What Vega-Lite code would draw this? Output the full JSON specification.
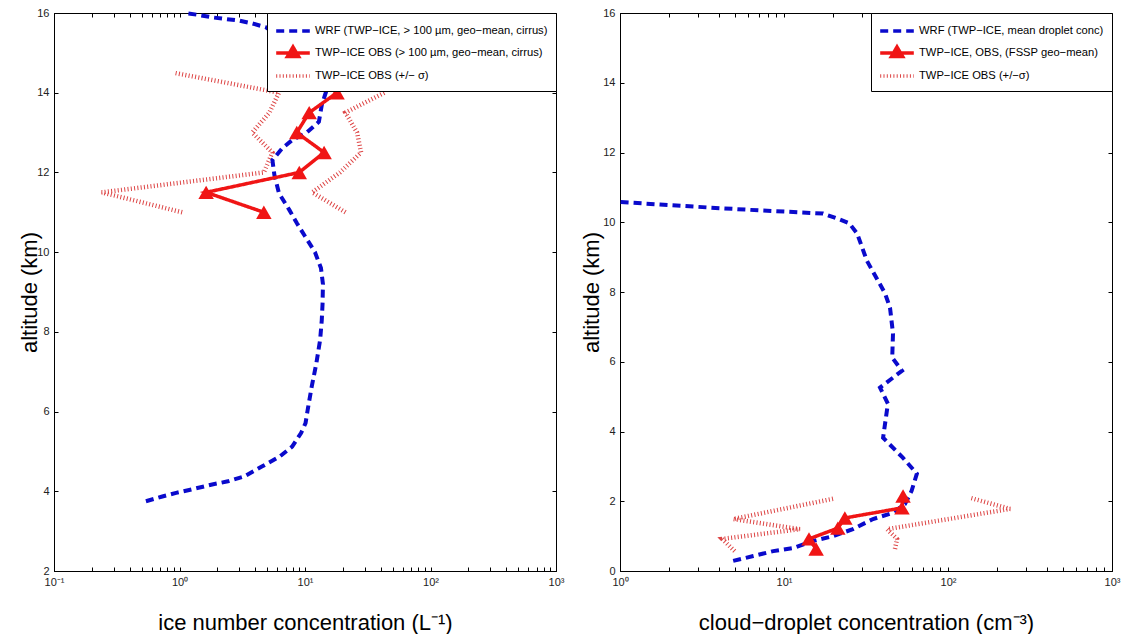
{
  "$schema": "https://vega.github.io/schema/vega-lite/v6.json",
  "background": "white",
  "padding": {"left": 17, "top": 4, "right": 0, "bottom": 0},
  "bounds": "flush",
  "spacing": 64,
  "datasets": {
    "ice": [
      {"series": "wrf", "branch": "a", "alt": 3.75, "conc": 0.54},
      {"series": "wrf", "branch": "a", "alt": 3.87, "conc": 0.73},
      {"series": "wrf", "branch": "a", "alt": 3.96, "conc": 0.94},
      {"series": "wrf", "branch": "a", "alt": 4.04, "conc": 1.22},
      {"series": "wrf", "branch": "a", "alt": 4.17, "conc": 1.82},
      {"series": "wrf", "branch": "a", "alt": 4.25, "conc": 2.43},
      {"series": "wrf", "branch": "a", "alt": 4.37, "conc": 3.26},
      {"series": "wrf", "branch": "a", "alt": 4.62, "conc": 4.53},
      {"series": "wrf", "branch": "a", "alt": 4.87, "conc": 6.28},
      {"series": "wrf", "branch": "a", "alt": 5.12, "conc": 7.9},
      {"series": "wrf", "branch": "a", "alt": 5.46, "conc": 9.3},
      {"series": "wrf", "branch": "a", "alt": 5.71, "conc": 10.1},
      {"series": "wrf", "branch": "a", "alt": 6.04, "conc": 10.5},
      {"series": "wrf", "branch": "a", "alt": 6.62, "conc": 11.3},
      {"series": "wrf", "branch": "a", "alt": 7.2, "conc": 12.3},
      {"series": "wrf", "branch": "a", "alt": 7.8, "conc": 13.2},
      {"series": "wrf", "branch": "a", "alt": 8.29, "conc": 13.6},
      {"series": "wrf", "branch": "a", "alt": 8.7, "conc": 13.8},
      {"series": "wrf", "branch": "a", "alt": 9.2, "conc": 13.9},
      {"series": "wrf", "branch": "a", "alt": 9.6, "conc": 13.4},
      {"series": "wrf", "branch": "a", "alt": 10.0, "conc": 12.0},
      {"series": "wrf", "branch": "a", "alt": 10.4, "conc": 10.0},
      {"series": "wrf", "branch": "a", "alt": 10.73, "conc": 8.6},
      {"series": "wrf", "branch": "a", "alt": 11.06, "conc": 7.5},
      {"series": "wrf", "branch": "a", "alt": 11.48, "conc": 6.2},
      {"series": "wrf", "branch": "a", "alt": 11.94, "conc": 5.7},
      {"series": "wrf", "branch": "a", "alt": 12.31, "conc": 5.5},
      {"series": "wrf", "branch": "a", "alt": 12.61, "conc": 6.6},
      {"series": "wrf", "branch": "a", "alt": 12.81, "conc": 7.9},
      {"series": "wrf", "branch": "a", "alt": 13.01, "conc": 10.4},
      {"series": "wrf", "branch": "a", "alt": 13.27, "conc": 12.9},
      {"series": "wrf", "branch": "a", "alt": 13.69, "conc": 13.6},
      {"series": "wrf", "branch": "a", "alt": 14.02, "conc": 14.7},
      {"series": "wrf", "branch": "a", "alt": 14.5, "conc": 13.0},
      {"series": "wrf", "branch": "a", "alt": 15.0, "conc": 9.5},
      {"series": "wrf", "branch": "a", "alt": 15.3, "conc": 7.0},
      {"series": "wrf", "branch": "a", "alt": 15.64, "conc": 4.89},
      {"series": "wrf", "branch": "a", "alt": 15.74, "conc": 3.79},
      {"series": "wrf", "branch": "a", "alt": 15.81, "conc": 2.98},
      {"series": "wrf", "branch": "a", "alt": 15.89, "conc": 1.82},
      {"series": "wrf", "branch": "a", "alt": 15.95, "conc": 1.43},
      {"series": "wrf", "branch": "a", "alt": 16.0, "conc": 1.09},
      {"series": "obs", "branch": "a", "alt": 11.0, "conc": 4.7},
      {"series": "obs", "branch": "a", "alt": 11.5, "conc": 1.63},
      {"series": "obs", "branch": "a", "alt": 12.0, "conc": 9.0},
      {"series": "obs", "branch": "a", "alt": 12.5, "conc": 14.2},
      {"series": "obs", "branch": "a", "alt": 13.0, "conc": 8.6},
      {"series": "obs", "branch": "a", "alt": 13.5, "conc": 10.8},
      {"series": "obs", "branch": "a", "alt": 14.0, "conc": 18.0},
      {"series": "sig", "branch": "lo", "alt": 11.0, "conc": 1.05},
      {"series": "sig", "branch": "lo", "alt": 11.5, "conc": 0.24},
      {"series": "sig", "branch": "lo", "alt": 12.0, "conc": 4.7},
      {"series": "sig", "branch": "lo", "alt": 12.5, "conc": 5.5},
      {"series": "sig", "branch": "lo", "alt": 13.0, "conc": 3.8},
      {"series": "sig", "branch": "lo", "alt": 13.5, "conc": 5.2},
      {"series": "sig", "branch": "lo", "alt": 14.0, "conc": 6.2},
      {"series": "sig", "branch": "lo", "alt": 14.5, "conc": 0.9},
      {"series": "sig", "branch": "hi", "alt": 11.0, "conc": 21},
      {"series": "sig", "branch": "hi", "alt": 11.5, "conc": 11.4},
      {"series": "sig", "branch": "hi", "alt": 12.0, "conc": 19},
      {"series": "sig", "branch": "hi", "alt": 12.5, "conc": 28},
      {"series": "sig", "branch": "hi", "alt": 13.0, "conc": 26},
      {"series": "sig", "branch": "hi", "alt": 13.5, "conc": 21},
      {"series": "sig", "branch": "hi", "alt": 14.0, "conc": 43}
    ],
    "drop": [
      {"series": "wrf", "branch": "a", "alt": 0.29, "conc": 4.9},
      {"series": "wrf", "branch": "a", "alt": 0.43, "conc": 6.5},
      {"series": "wrf", "branch": "a", "alt": 0.57, "conc": 8.6},
      {"series": "wrf", "branch": "a", "alt": 0.66, "conc": 11.4},
      {"series": "wrf", "branch": "a", "alt": 0.86, "conc": 15.0},
      {"series": "wrf", "branch": "a", "alt": 1.0, "conc": 19.9},
      {"series": "wrf", "branch": "a", "alt": 1.2, "conc": 26.3},
      {"series": "wrf", "branch": "a", "alt": 1.49, "conc": 34.9},
      {"series": "wrf", "branch": "a", "alt": 1.67, "conc": 46.2},
      {"series": "wrf", "branch": "a", "alt": 1.92, "conc": 54.7},
      {"series": "wrf", "branch": "a", "alt": 2.3, "conc": 60},
      {"series": "wrf", "branch": "a", "alt": 2.79, "conc": 64.6},
      {"series": "wrf", "branch": "a", "alt": 3.25, "conc": 53},
      {"series": "wrf", "branch": "a", "alt": 3.82, "conc": 40.2},
      {"series": "wrf", "branch": "a", "alt": 4.8, "conc": 43},
      {"series": "wrf", "branch": "a", "alt": 5.26, "conc": 38.5},
      {"series": "wrf", "branch": "a", "alt": 5.74, "conc": 52.4},
      {"series": "wrf", "branch": "a", "alt": 6.12, "conc": 45.7},
      {"series": "wrf", "branch": "a", "alt": 6.81, "conc": 46.2},
      {"series": "wrf", "branch": "a", "alt": 7.55, "conc": 44.3},
      {"series": "wrf", "branch": "a", "alt": 7.96, "conc": 41.3},
      {"series": "wrf", "branch": "a", "alt": 8.9, "conc": 32},
      {"series": "wrf", "branch": "a", "alt": 9.68, "conc": 27.9},
      {"series": "wrf", "branch": "a", "alt": 9.97, "conc": 25},
      {"series": "wrf", "branch": "a", "alt": 10.11, "conc": 21},
      {"series": "wrf", "branch": "a", "alt": 10.25, "conc": 17.3},
      {"series": "wrf", "branch": "a", "alt": 10.34, "conc": 7.1},
      {"series": "wrf", "branch": "a", "alt": 10.42, "conc": 3.54},
      {"series": "wrf", "branch": "a", "alt": 10.51, "conc": 1.75},
      {"series": "wrf", "branch": "a", "alt": 10.58, "conc": 1.0},
      {"series": "obs", "branch": "a", "alt": 0.63, "conc": 15.7},
      {"series": "obs", "branch": "a", "alt": 0.92, "conc": 14.2},
      {"series": "obs", "branch": "a", "alt": 1.23, "conc": 21.3},
      {"series": "obs", "branch": "a", "alt": 1.52, "conc": 23.5},
      {"series": "obs", "branch": "a", "alt": 1.81, "conc": 52.4},
      {"series": "obs", "branch": "a", "alt": 2.15, "conc": 53.2},
      {"series": "sig", "branch": "lo", "alt": 0.57, "conc": 5.0},
      {"series": "sig", "branch": "lo", "alt": 0.92, "conc": 4.2},
      {"series": "sig", "branch": "lo", "alt": 1.2, "conc": 12.5},
      {"series": "sig", "branch": "lo", "alt": 1.49, "conc": 4.9},
      {"series": "sig", "branch": "lo", "alt": 2.07, "conc": 19.9},
      {"series": "sig", "branch": "hi", "alt": 0.63, "conc": 47.5},
      {"series": "sig", "branch": "hi", "alt": 0.92, "conc": 48.9},
      {"series": "sig", "branch": "hi", "alt": 1.2, "conc": 42.5},
      {"series": "sig", "branch": "hi", "alt": 1.78, "conc": 239},
      {"series": "sig", "branch": "hi", "alt": 2.1, "conc": 136}
    ]
  },
  "hconcat": [
    {
      "width": 502,
      "height": 558,
      "data": {"name": "ice"},
      "encoding": {
        "x": {
          "field": "conc", "type": "quantitative",
          "scale": {"type": "log", "domain": [0.1, 1000], "nice": false},
          "axis": {
            "values": [0.1,0.2,0.3,0.4,0.5,0.6,0.7,0.8,0.9,1,2,3,4,5,6,7,8,9,10,20,30,40,50,60,70,80,90,100,200,300,400,500,600,700,800,900,1000],
            "labelExpr": "abs(log(datum.value)/LN10 - round(log(datum.value)/LN10)) < 0.001 ? ['10⁻¹','10⁰','10¹','10²','10³'][round(log(datum.value)/LN10)+1] : ''",
            "title": "ice number concentration (L⁻¹)",
            "titleX": 251, "titleY": 51, "titleBaseline": "middle", "titleAlign": "center"
          }
        },
        "y": {
          "field": "alt", "type": "quantitative",
          "scale": {"domain": [2, 16], "nice": false, "zero": false},
          "axis": {
            "values": [2,4,6,8,10,12,14,16], "format": "d",
            "title": "altitude (km)",
            "titleX": -25, "titleY": 279, "titleBaseline": "middle", "titleAlign": "center"
          }
        },
        "color": {
          "field": "series", "type": "nominal",
          "scale": {"domain": ["wrf", "obs", "sig"], "range": ["#0a0acc", "#f01515", "#dd4444"]},
          "legend": {
            "title": null,
            "labelExpr": "datum.value == 'wrf' ? 'WRF (TWP−ICE, > 100 µm, geo−mean, cirrus)' : datum.value == 'obs' ? 'TWP−ICE OBS (> 100 µm, geo−mean, cirrus)' : 'TWP−ICE OBS (+/− σ)'",
            "encode": {"symbols": {"update": {
              "shape": {"signal": "datum.value == 'obs' ? 'M-2.1,0H2.1M0,-0.75L0.7,0.45L-0.7,0.45Z' : 'M-2.1,0H2.1'"},
              "fill": {"signal": "datum.value == 'obs' ? '#f01515' : 'transparent'"}
            }}}
          }
        },
        "strokeDash": {
          "field": "series", "type": "nominal",
          "scale": {"domain": ["wrf", "obs", "sig"], "range": [[8, 5], [1, 0], [1, 2.3]]},
          "legend": {
            "title": null,
            "labelExpr": "datum.value == 'wrf' ? 'WRF (TWP−ICE, > 100 µm, geo−mean, cirrus)' : datum.value == 'obs' ? 'TWP−ICE OBS (> 100 µm, geo−mean, cirrus)' : 'TWP−ICE OBS (+/− σ)'"
          }
        },
        "order": {"field": "alt", "type": "quantitative"}
      },
      "layer": [
        {
          "layer": [
            {"transform": [{"filter": "datum.series == 'sig'"}], "mark": {"type": "line", "strokeWidth": 4.5}, "encoding": {"detail": {"field": "branch"}}},
            {"transform": [{"filter": "datum.series == 'wrf'"}], "mark": {"type": "line", "strokeWidth": 4}},
            {"transform": [{"filter": "datum.series == 'obs'"}], "mark": {"type": "line", "strokeWidth": 3.5}},
            {"transform": [{"filter": "datum.series == 'obs'"}], "mark": {"type": "point", "shape": "triangle-up", "filled": true, "size": 240, "opacity": 1}}
          ]
        },
        {
          "mark": {"type": "point", "opacity": 0},
          "encoding": {
            "x": {"field": "conc", "type": "quantitative",
              "axis": {"orient": "top", "labels": false, "title": null, "domain": false,
                "values": [0.1,0.2,0.3,0.4,0.5,0.6,0.7,0.8,0.9,1,2,3,4,5,6,7,8,9,10,20,30,40,50,60,70,80,90,100,200,300,400,500,600,700,800,900,1000]}},
            "y": {"field": "alt", "type": "quantitative",
              "axis": {"orient": "right", "labels": false, "title": null, "domain": false, "values": [2,4,6,8,10,12,14,16]}}
          }
        }
      ],
      "resolve": {"axis": {"x": "independent", "y": "independent"}}
    },
    {
      "width": 492,
      "height": 558,
      "data": {"name": "drop"},
      "encoding": {
        "x": {
          "field": "conc", "type": "quantitative",
          "scale": {"type": "log", "domain": [1, 1000], "nice": false},
          "axis": {
            "values": [1,2,3,4,5,6,7,8,9,10,20,30,40,50,60,70,80,90,100,200,300,400,500,600,700,800,900,1000],
            "labelExpr": "abs(log(datum.value)/LN10 - round(log(datum.value)/LN10)) < 0.001 ? ['10⁰','10¹','10²','10³'][round(log(datum.value)/LN10)] : ''",
            "title": "cloud−droplet concentration (cm⁻³)",
            "titleX": 246, "titleY": 51, "titleBaseline": "middle", "titleAlign": "center"
          }
        },
        "y": {
          "field": "alt", "type": "quantitative",
          "scale": {"domain": [0, 16], "nice": false, "zero": false},
          "axis": {
            "values": [0,2,4,6,8,10,12,14,16], "format": "d",
            "title": "altitude (km)",
            "titleX": -29, "titleY": 279, "titleBaseline": "middle", "titleAlign": "center"
          }
        },
        "color": {
          "field": "series", "type": "nominal",
          "scale": {"domain": ["wrf", "obs", "sig"], "range": ["#0a0acc", "#f01515", "#dd4444"]},
          "legend": {
            "title": null,
            "labelExpr": "datum.value == 'wrf' ? 'WRF (TWP−ICE, mean droplet conc)' : datum.value == 'obs' ? 'TWP−ICE, OBS, (FSSP geo−mean)' : 'TWP−ICE OBS (+/−σ)'",
            "encode": {"symbols": {"update": {
              "shape": {"signal": "datum.value == 'obs' ? 'M-2.1,0H2.1M0,-0.75L0.7,0.45L-0.7,0.45Z' : 'M-2.1,0H2.1'"},
              "fill": {"signal": "datum.value == 'obs' ? '#f01515' : 'transparent'"}
            }}}
          }
        },
        "strokeDash": {
          "field": "series", "type": "nominal",
          "scale": {"domain": ["wrf", "obs", "sig"], "range": [[8, 5], [1, 0], [1, 2.3]]},
          "legend": {
            "title": null,
            "labelExpr": "datum.value == 'wrf' ? 'WRF (TWP−ICE, mean droplet conc)' : datum.value == 'obs' ? 'TWP−ICE, OBS, (FSSP geo−mean)' : 'TWP−ICE OBS (+/−σ)'"
          }
        },
        "order": {"field": "alt", "type": "quantitative"}
      },
      "layer": [
        {
          "layer": [
            {"transform": [{"filter": "datum.series == 'sig'"}], "mark": {"type": "line", "strokeWidth": 4.5}, "encoding": {"detail": {"field": "branch"}}},
            {"transform": [{"filter": "datum.series == 'wrf'"}], "mark": {"type": "line", "strokeWidth": 4}},
            {"transform": [{"filter": "datum.series == 'obs'"}], "mark": {"type": "line", "strokeWidth": 3.5}},
            {"transform": [{"filter": "datum.series == 'obs'"}], "mark": {"type": "point", "shape": "triangle-up", "filled": true, "size": 240, "opacity": 1}}
          ]
        },
        {
          "mark": {"type": "point", "opacity": 0},
          "encoding": {
            "x": {"field": "conc", "type": "quantitative",
              "axis": {"orient": "top", "labels": false, "title": null, "domain": false,
                "values": [1,2,3,4,5,6,7,8,9,10,20,30,40,50,60,70,80,90,100,200,300,400,500,600,700,800,900,1000]}},
            "y": {"field": "alt", "type": "quantitative",
              "axis": {"orient": "right", "labels": false, "title": null, "domain": false, "values": [0,2,4,6,8,10,12,14,16]}}
          }
        }
      ],
      "resolve": {"axis": {"x": "independent", "y": "independent"}}
    }
  ],
  "resolve": {
    "scale": {"x": "independent", "y": "independent", "color": "independent", "strokeDash": "independent"},
    "legend": {"color": "independent", "strokeDash": "independent"}
  },
  "config": {
    "view": {"stroke": "black", "strokeWidth": 1},
    "axis": {
      "grid": false,
      "domainColor": "black",
      "domainWidth": 1,
      "tickColor": "black",
      "tickSize": -4,
      "labelPadding": 9,
      "labelFont": "Liberation Sans Narrow, Liberation Sans, sans-serif",
      "labelFontSize": 11,
      "labelColor": "#222222",
      "labelFlush": false,
      "labelOverlap": false,
      "titleFont": "Liberation Sans, sans-serif",
      "titleFontSize": 22,
      "titleFontWeight": "normal",
      "titleColor": "black"
    },
    "legend": {
      "orient": "top-right",
      "offset": 0,
      "padding": 8,
      "strokeColor": "black",
      "fillColor": "white",
      "labelFont": "Liberation Sans Narrow, Liberation Sans, sans-serif",
      "labelFontSize": 11.2,
      "labelColor": "black",
      "labelLimit": 400,
      "labelOffset": 12,
      "symbolOffset": 8,
      "symbolType": "M-2.1,0H2.1",
      "symbolSize": 256,
      "symbolStrokeWidth": 3.5,
      "rowPadding": 2
    }
  }
}
